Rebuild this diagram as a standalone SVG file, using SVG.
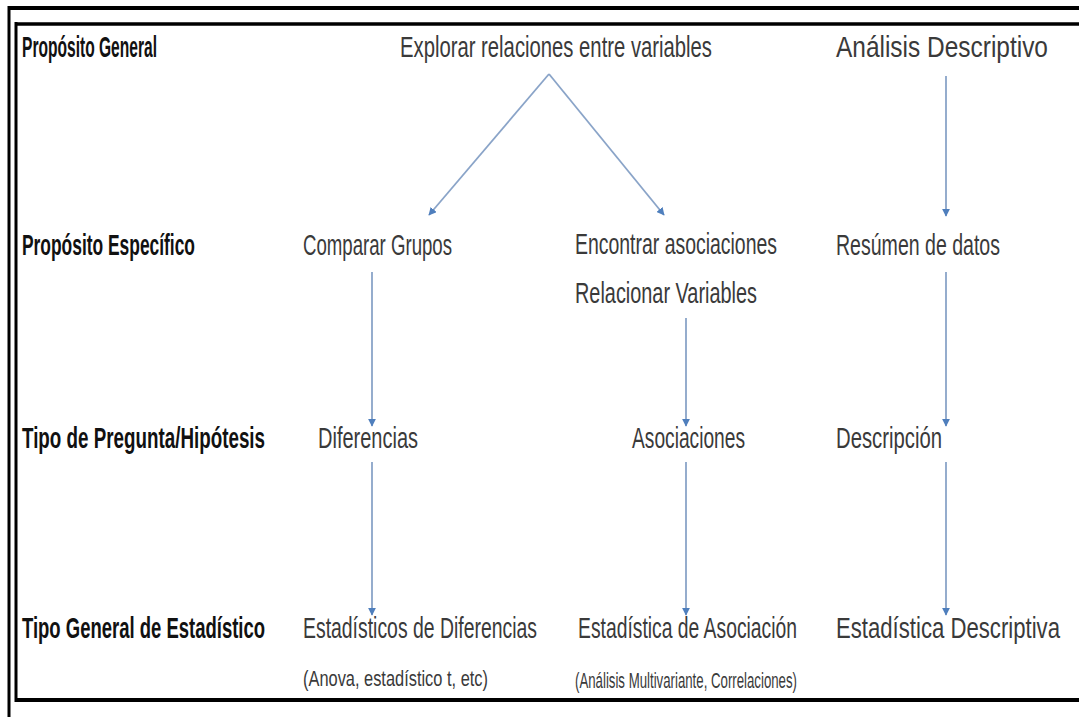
<svg xmlns="http://www.w3.org/2000/svg" width="1079" height="717" viewBox="0 0 1079 717">
<style>
  .lbl { font-family: "Liberation Sans", Arial, sans-serif; font-size: 29px; font-weight: bold; fill: #111; }
  .txt { font-family: "Liberation Sans", Arial, sans-serif; font-size: 29px; fill: #3a3a3a; }
  .sml { font-family: "Liberation Sans", Arial, sans-serif; font-size: 22px; fill: #3a3a3a; }
  .frame { stroke: #000; fill: none; }
  .conn { stroke: #8aa4c8; stroke-width: 1.8; fill: none; marker-end: url(#ah); }
</style>
<defs>
  <marker id="ah" viewBox="0 0 10 10" refX="9" refY="5" markerWidth="8" markerHeight="8" markerUnits="userSpaceOnUse" orient="auto">
    <path d="M0,0 L10,5 L0,10 z" fill="#4f7fbd"/>
  </marker>
</defs>
<rect x="0" y="0" width="1079" height="717" fill="#fff"/>
<g id="frame">
  <line class="frame" x1="9" y1="8" x2="1079" y2="8" stroke-width="4"/>
  <line class="frame" x1="9" y1="6" x2="9" y2="717" stroke-width="3"/>
  <line class="frame" x1="15" y1="24" x2="1079" y2="24" stroke-width="3.5"/>
  <line class="frame" x1="16" y1="22" x2="16" y2="702" stroke-width="3"/>
  <line class="frame" x1="15" y1="700" x2="1079" y2="700" stroke-width="4"/>
</g>
<g id="row-labels">
  <text id="l1" class="lbl" transform="translate(22,57) scale(0.67,1)" textLength="201.5" lengthAdjust="spacingAndGlyphs">Propósito General</text>
  <text id="l2" class="lbl" transform="translate(22,255) scale(0.67,1)" textLength="258.2" lengthAdjust="spacingAndGlyphs">Propósito Específico</text>
  <text id="l3" class="lbl" transform="translate(22,448) scale(0.67,1)" textLength="362.7" lengthAdjust="spacingAndGlyphs">Tipo de Pregunta/Hipótesis</text>
  <text id="l4" class="lbl" transform="translate(22,638) scale(0.67,1)" textLength="362.7" lengthAdjust="spacingAndGlyphs">Tipo General de Estadístico</text>
</g>
<g id="n-explorar"><text class="txt" transform="translate(400,57) scale(0.67,1)" textLength="465.7" lengthAdjust="spacingAndGlyphs">Explorar relaciones entre variables</text></g>
<g id="n-analisis"><text class="txt" transform="translate(836,57) scale(0.67,1)" textLength="316.4" lengthAdjust="spacingAndGlyphs">Análisis Descriptivo</text></g>
<g id="n-comparar"><text class="txt" transform="translate(303,255) scale(0.67,1)" textLength="222.4" lengthAdjust="spacingAndGlyphs">Comparar Grupos</text></g>
<g id="n-encontrar">
  <text class="txt" transform="translate(575,254) scale(0.67,1)" textLength="301.5" lengthAdjust="spacingAndGlyphs">Encontrar asociaciones</text>
  <text class="txt" transform="translate(575,303) scale(0.67,1)" textLength="271.6" lengthAdjust="spacingAndGlyphs">Relacionar Variables</text>
</g>
<g id="n-resumen"><text class="txt" transform="translate(836,255) scale(0.67,1)" textLength="244.8" lengthAdjust="spacingAndGlyphs">Resúmen de datos</text></g>
<g id="n-diferencias"><text class="txt" transform="translate(318,448) scale(0.67,1)" textLength="149.3" lengthAdjust="spacingAndGlyphs">Diferencias</text></g>
<g id="n-asociaciones"><text class="txt" transform="translate(632,448) scale(0.67,1)" textLength="168.7" lengthAdjust="spacingAndGlyphs">Asociaciones</text></g>
<g id="n-descripcion"><text class="txt" transform="translate(836,448) scale(0.67,1)" textLength="158.2" lengthAdjust="spacingAndGlyphs">Descripción</text></g>
<g id="n-est-dif">
  <text class="txt" transform="translate(303,638) scale(0.67,1)" textLength="349.3" lengthAdjust="spacingAndGlyphs">Estadísticos de Diferencias</text>
  <text class="sml" transform="translate(303,686) scale(0.76,1)" textLength="243.4" lengthAdjust="spacingAndGlyphs">(Anova, estadístico t,  etc)</text>
</g>
<g id="n-est-asoc">
  <text class="txt" transform="translate(578,638) scale(0.67,1)" textLength="326.9" lengthAdjust="spacingAndGlyphs">Estadística de Asociación</text>
  <text class="sml" transform="translate(575,688) scale(0.76,1)" textLength="292.1" lengthAdjust="spacingAndGlyphs">(Análisis Multivariante, Correlaciones)</text>
</g>
<g id="n-est-desc"><text class="txt" transform="translate(836,638) scale(0.67,1)" textLength="334.3" lengthAdjust="spacingAndGlyphs">Estadística Descriptiva</text></g>
<g id="connectors">
  <line class="conn" x1="549" y1="74" x2="429" y2="215"/>
  <line class="conn" x1="549" y1="74" x2="664" y2="215"/>
  <line class="conn" x1="946" y1="76" x2="946" y2="216"/>
  <line class="conn" x1="372" y1="272" x2="372" y2="426"/>
  <line class="conn" x1="686" y1="318" x2="686" y2="426"/>
  <line class="conn" x1="946" y1="272" x2="946" y2="426"/>
  <line class="conn" x1="372" y1="462" x2="372" y2="615"/>
  <line class="conn" x1="686" y1="462" x2="686" y2="615"/>
  <line class="conn" x1="946" y1="462" x2="946" y2="615"/>
</g>
</svg>
